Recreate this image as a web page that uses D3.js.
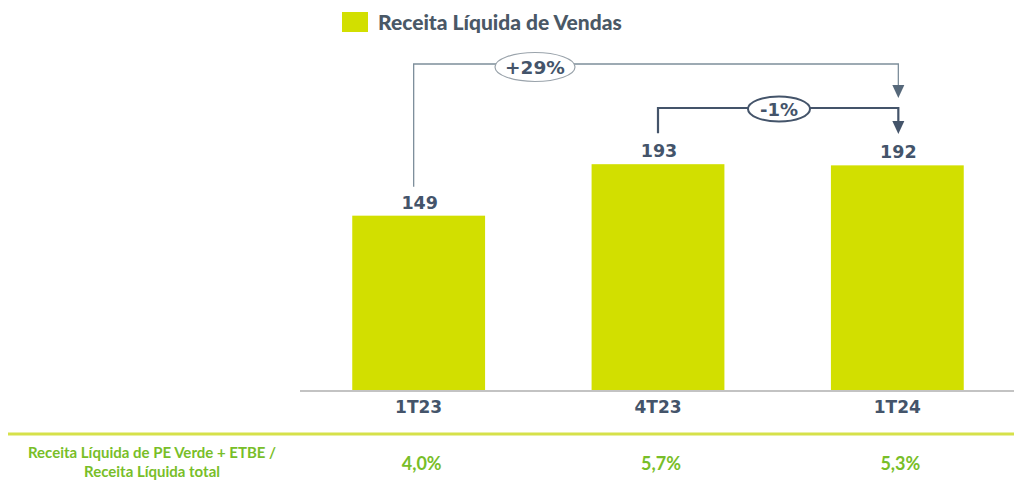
<!DOCTYPE html>
<html><head><meta charset="utf-8">
<script src="https://cdn.jsdelivr.net/npm/d3@7"></script>
<style>body{margin:0;background:#fff}svg{display:block}</style>
</head><body>
<svg id="c" width="1014" height="489"></svg>
<script>
const categories = ["1T23", "4T23", "1T24"];
const values = [149, 193, 192];
const seriesName = "Receita Líquida de Vendas";
const shareLabel = ["Receita Líquida de PE Verde + ETBE /", "Receita Líquida total"];
const shareValues = ["4,0%", "5,7%", "5,3%"];
const changes = [{from: 0, to: 2, label: "+29%"}, {from: 1, to: 2, label: "-1%"}];

const W = 1014, H = 489;
const svg = d3.select("#c");
const barColor = "#d2df00", dark = "#44546a", green = "#78be28";

const x = d3.scaleBand().domain(categories).range([299, 1017]).paddingInner(0.445).paddingOuter(0.2225);
const y = d3.scaleLinear().domain([0, 200]).range([390, 156]);

// bars
svg.selectAll("rect.bar").data(values).join("rect").attr("class","bar")
  .attr("x", (d,i) => x(categories[i])).attr("width", x.bandwidth())
  .attr("y", d => y(d)).attr("height", d => y(0) - y(d)).attr("fill", barColor);

// axis line
const ax = svg.append("g").attr("transform", `translate(0,${y(0)+1})`)
  .call(d3.axisBottom(x).tickSize(0).tickPadding(10));
ax.select(".domain").attr("stroke", "#c3c3c3").attr("stroke-width", 2).attr("d", "M300,0H1014");
ax.selectAll("text").attr("font-family", "DejaVu Sans").attr("font-weight", "bold")
  .attr("font-size", 17).attr("fill", dark);

// value labels
svg.selectAll("text.val").data(values).join("text").attr("class","val")
  .attr("x", (d,i) => x(categories[i]) + x.bandwidth()/2 + 1).attr("y", d => y(d) - 7)
  .attr("text-anchor", "middle").attr("font-family", "DejaVu Sans").attr("font-weight", "bold")
  .attr("font-size", 17.5).attr("fill", dark).text(d => d);

// legend
svg.append("rect").attr("x", 342).attr("y", 12).attr("width", 26).attr("height", 20).attr("fill", barColor);
svg.append("text").attr("x", 378).attr("y", 29.5).attr("font-family", "Lato").attr("font-weight", "900")
  .attr("font-size", 21).attr("fill", "#4a5866").text(seriesName);

// change annotations
const cx = i => x(categories[i]) + x.bandwidth()/2;
function arrowHead(xc, tip, col) {
  svg.append("path").attr("d", `M${xc-6},${tip-13}L${xc+6},${tip-13}L${xc},${tip}Z`).attr("fill", col);
}
// +29%
{
  const c = changes[0], x0 = cx(c.from) - 5, x1 = cx(c.to) + 1, yl = 64;
  svg.append("path").attr("d", `M${x0},${y(values[c.from]) - 29}V${yl}H${x1}V${yl+22}`)
    .attr("fill", "none").attr("stroke", "#7d8e9b").attr("stroke-width", 1.3);
  arrowHead(x1, yl + 34, "#56687a");
  svg.append("ellipse").attr("cx", 535).attr("cy", 67).attr("rx", 40).attr("ry", 14.5)
    .attr("fill", "#fff").attr("stroke", "#9aa3ab").attr("stroke-width", 1.2);
  svg.append("text").attr("x", 535).attr("y", 74).attr("text-anchor", "middle")
    .attr("font-family", "DejaVu Sans").attr("font-weight", "bold").attr("font-size", 18.5)
    .attr("fill", dark).text(c.label);
}
// -1%
{
  const c = changes[1], x0 = cx(c.from), x1 = cx(c.to) + 1, yl = 108;
  svg.append("path").attr("d", `M${x0},${y(values[c.from]) - 31}V${yl}H${x1}V${yl+14}`)
    .attr("fill", "none").attr("stroke", dark).attr("stroke-width", 2.2);
  arrowHead(x1, yl + 26, dark);
  svg.append("ellipse").attr("cx", 779).attr("cy", 109).attr("rx", 31).attr("ry", 12.5)
    .attr("fill", "#fff").attr("stroke", dark).attr("stroke-width", 2);
  svg.append("text").attr("x", 779).attr("y", 115.5).attr("text-anchor", "middle")
    .attr("font-family", "DejaVu Sans").attr("font-weight", "bold").attr("font-size", 18)
    .attr("fill", dark).text(c.label);
}

// bottom table
svg.append("line").attr("x1", 8).attr("x2", 1014).attr("y1", 434).attr("y2", 434)
  .attr("stroke", "#d6e14a").attr("stroke-width", 3);
svg.selectAll("text.sl").data(shareLabel).join("text").attr("class","sl")
  .attr("x", 152).attr("y", (d,i) => 458 + i*19).attr("text-anchor", "middle")
  .attr("font-family", "Lato").attr("font-weight", "bold").attr("font-size", 15).attr("fill", green).text(d => d);
svg.selectAll("text.sv").data(shareValues).join("text").attr("class","sv")
  .attr("x", (d,i) => cx(i) + 3).attr("y", 469.5).attr("text-anchor", "middle")
  .attr("font-family", "Lato").attr("font-weight", "bold").attr("font-size", 18).attr("fill", green).text(d => d);
</script>
</body></html>
